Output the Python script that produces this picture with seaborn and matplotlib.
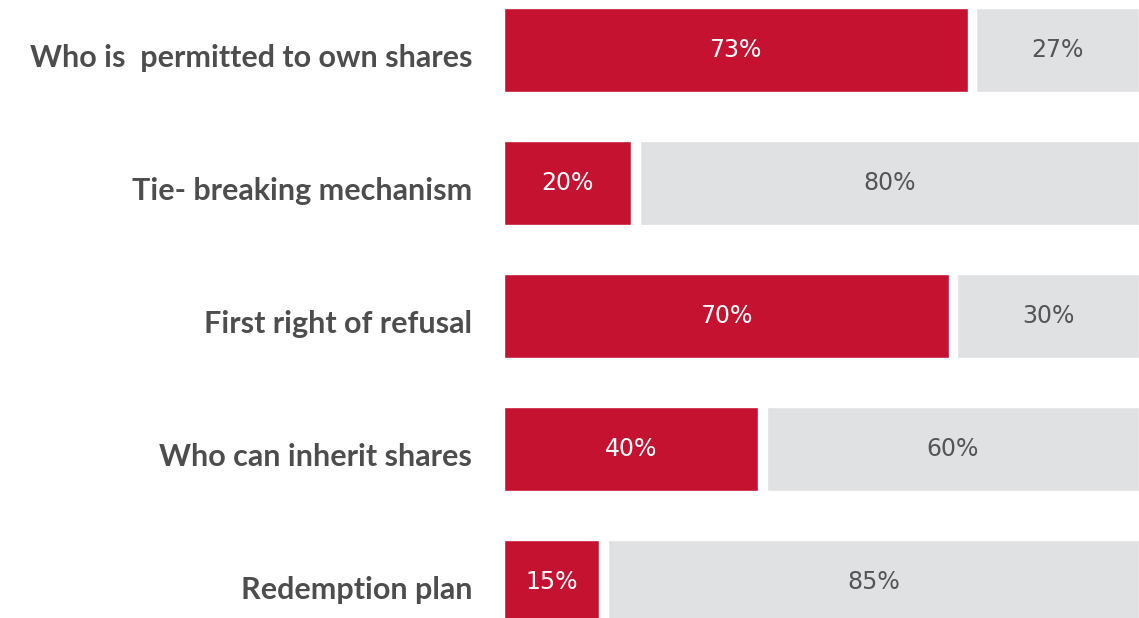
import matplotlib
matplotlib.use("Agg")
import matplotlib.pyplot as plt
import seaborn as sns
import pandas as pd

categories = ["Who is  permitted to own shares", "Tie- breaking mechanism",
              "First right of refusal", "Who can inherit shares", "Redemption plan"]
yes_values = [73, 20, 70, 40, 15]
no_values = [27, 80, 30, 60, 85]

RED = "#c41230"
GRAY = "#e0e1e3"
GAP = 1.4

sns.set_theme(style="white")
plt.rcParams['font.family'] = ['Lato', 'DejaVu Sans']

df = pd.DataFrame({"cat": categories, "yes": yes_values, "no": no_values})
df["total"] = df["yes"] + df["no"]
df["yes_gap"] = df["yes"] + GAP

fig = plt.figure(figsize=(11.39, 6.18), dpi=100)
ax = fig.add_axes([504 / 1139, 0, 1 - 504 / 1139, 1])

sns.barplot(data=df, y="cat", x="total", color=GRAY, width=0.632, ax=ax,
            saturation=1, orient="h")
sns.barplot(data=df, y="cat", x="yes_gap", color="white", width=0.64, ax=ax,
            saturation=1, orient="h")
sns.barplot(data=df, y="cat", x="yes", color=RED, width=0.632, ax=ax,
            saturation=1, orient="h")

ax.set_xlim(0, 100)
ax.set_ylim(4.271, -0.376)
ax.set_xlabel("")
ax.set_ylabel("")
ax.set_xticks([])
ax.set_yticklabels([])
sns.despine(ax=ax, left=True, bottom=True)
ax.tick_params(axis="y", length=0)

for i, cat in enumerate(categories):
    ax.annotate(cat, xy=(0, i), xytext=(-23, -12.2), textcoords="offset points",
                ha="right", va="baseline", fontsize=22, fontweight="bold",
                color="#4d4d4d", annotation_clip=False)

for i, (y, n) in enumerate(zip(yes_values, no_values)):
    ax.text(y / 2, i, f"{y}%", ha="center", va="center", color="white",
            fontsize=17, family=["DejaVu Sans"])
    ax.text(y + GAP + (100 - y - GAP) / 2, i, f"{n}%", ha="center", va="center",
            color="#555555", fontsize=17, family=["DejaVu Sans"])

fig.savefig("out.png", dpi=100)
